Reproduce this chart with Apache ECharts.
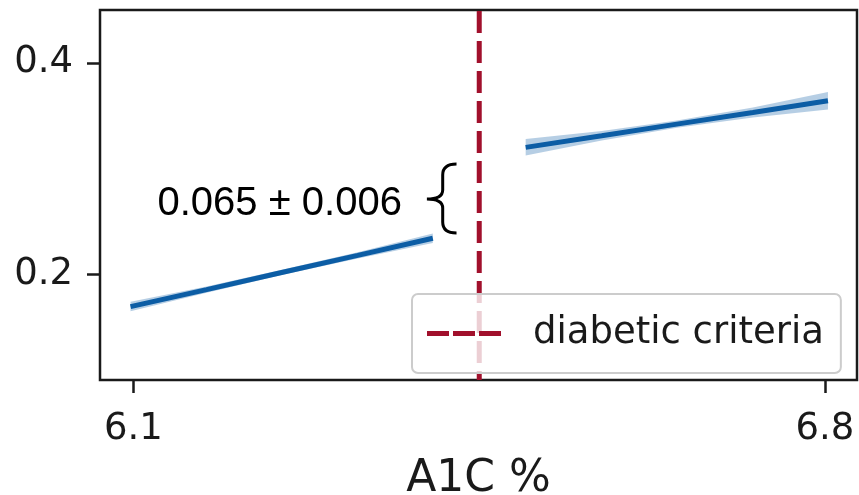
<!DOCTYPE html>
<html>
<head>
<meta charset="utf-8">
<script src="https://cdn.jsdelivr.net/npm/echarts@6/dist/echarts.min.js"></script>
<style>html,body{margin:0;padding:0;background:#fff;}#c{width:859px;height:495px;}</style>
</head>
<body>
<div id="c"></div>
<script>
// ---- data ----
var leftX = [6.097, 6.174, 6.25, 6.327, 6.403];
var leftY = [0.1694, 0.1855, 0.2017, 0.2178, 0.234];
var leftLow = [0.1649, 0.1825, 0.1992, 0.2148, 0.2295];
var leftHigh = [0.1739, 0.1885, 0.2042, 0.2208, 0.2385];
var rightX = [6.497, 6.574, 6.65, 6.727, 6.803];
var rightY = [0.320, 0.331, 0.342, 0.353, 0.3641];
var rightLow = [0.3122, 0.3265, 0.3385, 0.3482, 0.3559];
var rightHigh = [0.3278, 0.3355, 0.3455, 0.3578, 0.3723];
var criteriaX = 6.45;
var xTicks = [6.1, 6.8];
var yTicks = [0.2, 0.4];
var annotText = '0.065 \u00b1 0.006';
var annotPos = [6.248, 0.2664];
var braceTip = [6.397, 0.2712];
var braceTop = 0.3043, braceBottom = 0.239, braceRightX = 6.427;

var xMin = 6.0661, xMax = 6.8324, yMin = 0.1, yMax = 0.4499;

function zip(a, b) { return a.map(function (v, i) { return [v, b[i]]; }); }

var blue = '#0c5da5';
var band = 'rgba(12,93,165,0.3)';
var red = '#a1102c';

function bandSeries(xs, lo, hi) {
  return {
    type: 'custom', silent: true, z: 2,
    data: [0],
    renderItem: function (params, api) {
      var pts = [];
      for (var i = 0; i < xs.length; i++) pts.push(api.coord([xs[i], hi[i]]));
      for (var j = xs.length - 1; j >= 0; j--) pts.push(api.coord([xs[j], lo[j]]));
      return { type: 'polygon', shape: { points: pts }, style: { fill: band } };
    }
  };
}

var chart = echarts.init(document.getElementById('c'));
chart.setOption({
  animation: false,
  grid: { left: 100, right: 2, top: 10, bottom: 115, containLabel: false, outerBoundsMode: 'none',
    show: true, borderColor: '#1a1a1a', borderWidth: 2.5, backgroundColor: 'transparent', z: 1 },
  legend: {
    z: 20,
    data: [{ name: 'diabetic criteria', icon: 'path://M0,0 h22 v5 h-22 Z M26,0 h22 v5 h-22 Z M52,0 h22 v5 h-22 Z' }],
    left: 412, top: 294,
    padding: [21, 17, 21, 15],
    itemWidth: 74, itemHeight: 5,
    itemStyle: { color: red, borderWidth: 0 },
    backgroundColor: 'rgba(255,255,255,0.8)',
    borderColor: '#cccccc', borderWidth: 2, borderRadius: 6,
    textStyle: { fontFamily: 'DejaVu Sans', fontSize: 37, color: '#1a1a1a', padding: [0, 0, 0, 27] }
  },
  xAxis: {
    type: 'value', min: xMin, max: xMax,
    name: 'A1C %', nameLocation: 'middle', nameGap: 78,
    nameTextStyle: { fontFamily: 'DejaVu Sans', fontSize: 44, color: '#1a1a1a' },
    splitLine: { show: false },
    axisLine: { show: false },
    axisTick: { show: true, customValues: xTicks, length: 13, lineStyle: { color: '#1a1a1a', width: 2.5 } },
    axisLabel: { customValues: xTicks, margin: 31, fontFamily: 'DejaVu Sans', fontSize: 37, color: '#1a1a1a', formatter: function (v) { return v.toFixed(1); } }
  },
  yAxis: {
    type: 'value', min: yMin, max: yMax,
    splitLine: { show: false },
    axisLine: { show: false },
    axisTick: { show: true, customValues: yTicks, length: 13, lineStyle: { color: '#1a1a1a', width: 2.5 } },
    axisLabel: { customValues: yTicks, margin: 27, fontFamily: 'DejaVu Sans', fontSize: 37, color: '#1a1a1a', formatter: function (v) { return v.toFixed(1); } }
  },
  series: [
    bandSeries(leftX, leftLow, leftHigh),
    bandSeries(rightX, rightLow, rightHigh),
    { name: 'fit left', type: 'line', data: zip(leftX, leftY), symbol: 'none', z: 3, silent: true,
      lineStyle: { color: blue, width: 5, cap: 'butt' } },
    { name: 'fit right', type: 'line', data: zip(rightX, rightY), symbol: 'none', z: 3, silent: true,
      lineStyle: { color: blue, width: 5, cap: 'butt' } },
    { name: 'diabetic criteria', type: 'line', data: [[criteriaX, yMin], [criteriaX, yMax]], symbol: 'none', z: 3, silent: true,
      itemStyle: { color: red },
      lineStyle: { color: red, width: 5, type: [22, 8], dashOffset: 13, cap: 'butt' } },
    { type: 'custom', silent: true, z: 5, data: [0],
      renderItem: function (params, api) {
        var t = api.coord(annotPos);
        var tip = api.coord(braceTip);
        var top = api.coord([braceRightX, braceTop]);
        var bot = api.coord([braceRightX, braceBottom]);
        var xr = top[0], xm = (xr + tip[0]) / 2 + 1, xl = tip[0];
        var yt = top[1], yb = bot[1], ym = tip[1];
        var d = 'M' + xr + ' ' + yt +
          ' C' + (xr - 9) + ' ' + yt + ' ' + xm + ' ' + (yt + 3) + ' ' + xm + ' ' + (yt + 11) +
          ' L' + xm + ' ' + (ym - 9) +
          ' C' + xm + ' ' + (ym - 3) + ' ' + (xm - 6) + ' ' + ym + ' ' + xl + ' ' + ym +
          ' C' + (xm - 6) + ' ' + ym + ' ' + xm + ' ' + (ym + 3) + ' ' + xm + ' ' + (ym + 9) +
          ' L' + xm + ' ' + (yb - 11) +
          ' C' + xm + ' ' + (yb - 3) + ' ' + (xr - 9) + ' ' + yb + ' ' + xr + ' ' + yb;
        return { type: 'group', children: [
          { type: 'text', style: { text: annotText, x: t[0], y: t[1], align: 'center', verticalAlign: 'middle',
            font: '40px "Liberation Sans", Arial, sans-serif', fill: '#000' } },
          { type: 'path', shape: { pathData: d }, style: { fill: null, stroke: '#000', lineWidth: 3 } }
        ] };
      }
    }
  ]
});
</script>
</body>
</html>
